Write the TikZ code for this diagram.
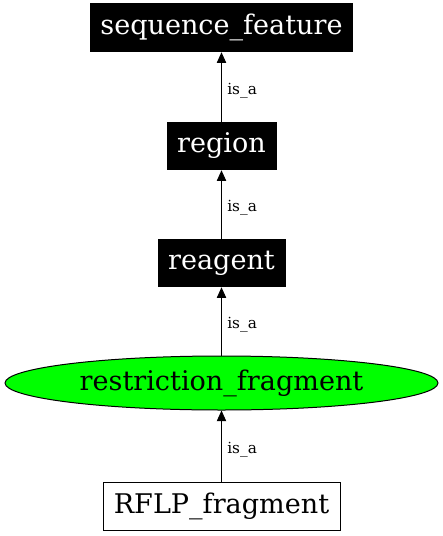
\documentclass[tikz,border=0pt]{standalone}
\usepackage{fontspec}
\setmainfont{DejaVu Serif}
\usetikzlibrary{arrows.meta,shapes.geometric}
\begin{document}
\begin{tikzpicture}[x=0.75pt,y=-0.75pt,
  blk/.style={fill=black,text=white,inner sep=0pt,font=\fontsize{20.3}{24}\selectfont},
  wbox/.style={draw=black,line width=0.75pt,fill=white,inner sep=0pt,font=\fontsize{20.3}{24}\selectfont},
  ell/.style={ellipse,draw=black,line width=0.75pt,fill=green,inner sep=0pt,font=\fontsize{20.3}{24}\selectfont},
  edge/.style={draw=black,line width=0.75pt,-{Triangle[length=8pt,width=7pt]}},
  lab/.style={font=\fontsize{11.5}{14}\selectfont,anchor=west,inner sep=0pt}]
\useasboundingbox (0,0) rectangle (443,536);
\node[blk,minimum width=197.25pt,minimum height=36.75pt] (sf) at (221.5,27.5) {sequence\_feature};
\node[blk,minimum width=82.5pt,minimum height=36pt] (rg) at (221.5,146) {region};
\node[blk,minimum width=96pt,minimum height=36pt] (re) at (221.5,263) {reagent};
\node[ell,minimum width=324.75pt,minimum height=40.5pt] (rf) at (221.5,383) {restriction\_fragment};
\node[wbox,minimum width=177.75pt,minimum height=36pt] (rp) at (221.5,506) {RFLP\_fragment};
\draw[edge] (rg) -- (sf) node[lab,pos=0.45,xshift=4pt] {is\_a};
\draw[edge] (re) -- (rg) node[lab,pos=0.45,xshift=4pt] {is\_a};
\draw[edge] (rf) -- (re) node[lab,pos=0.45,xshift=4pt] {is\_a};
\draw[edge] (rp) -- (rf) node[lab,pos=0.45,xshift=4pt] {is\_a};
\end{tikzpicture}
\end{document}
